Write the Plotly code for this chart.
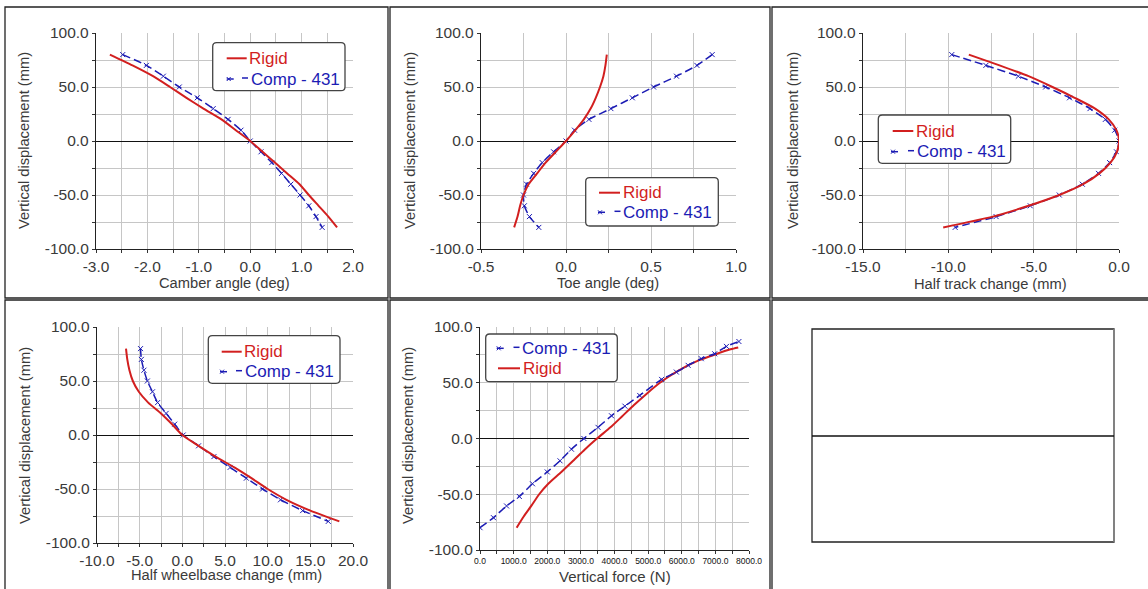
import plotly.graph_objects as go

W, H = 1148, 589

# ---------------- data ----------------
disp = [80, 70, 60, 50, 40, 30, 20, 10, 0, -10, -20, -30, -40, -50, -60, -70, -80]

camber_rigid = [-2.73, -2.29, -1.89, -1.56, -1.24, -0.91, -0.56, -0.28, 0.0, 0.24, 0.48, 0.72, 0.96, 1.14, 1.33, 1.52, 1.69]
camber_comp = [-2.48, -2.02, -1.69, -1.38, -1.03, -0.72, -0.43, -0.18, 0.0, 0.21, 0.42, 0.61, 0.79, 0.97, 1.14, 1.28, 1.40]

toe_rigid = [0.24, 0.232, 0.22, 0.20, 0.175, 0.145, 0.105, 0.055, 0.0, -0.06, -0.12, -0.17, -0.22, -0.25, -0.27, -0.285, -0.305]
toe_comp = [0.86, 0.77, 0.65, 0.515, 0.39, 0.264, 0.135, 0.05, 0.0, -0.073, -0.14, -0.19, -0.232, -0.25, -0.245, -0.215, -0.16]

track_rigid = [-8.8, -7.0, -5.3, -3.9, -2.6, -1.4, -0.6, -0.15, 0.0, -0.12, -0.5, -1.15, -2.1, -3.5, -5.3, -7.4, -10.3]
track_comp = [-9.8, -7.8, -5.9, -4.3, -2.9, -1.7, -0.8, -0.25, 0.0, -0.15, -0.55, -1.2, -2.15, -3.5, -5.2, -7.2, -9.6]

wb_rigid = [-6.6, -6.45, -6.2, -5.8, -5.1, -4.0, -2.5, -1.2, 0.0, 1.9, 3.9, 6.1, 8.1, 10.0, 12.2, 15.0, 18.4]
wb_comp = [-4.9, -4.8, -4.5, -4.1, -3.5, -2.9, -1.9, -0.9, 0.1, 1.9, 3.7, 5.6, 7.5, 9.4, 11.5, 14.1, 17.1]

force_comp = [0, 400, 790, 1170, 1560, 2000, 2380, 2720, 3090, 3510, 3910, 4310, 4750, 5400, 5840, 6190, 6580, 6980, 7330, 7700]
force_comp_disp = [-80, -71, -60.5, -52, -40.6, -30, -20, -9.6, 0, 10, 20.4, 29, 38.6, 53, 59.6, 65.6, 71.6, 76, 82.6, 87]

force_rigid = [1090, 1300, 1535, 1760, 2030, 2420, 2770, 3110, 3480, 3880, 4230, 4580, 4950, 5350, 5850, 6500, 7450, 7680]
force_rigid_disp = [-80, -70, -60, -50, -40.6, -30, -20, -10, 0, 10, 20, 30, 40, 50, 60, 70, 80, 81.7]

y_tickvals = [-100, -75, -50, -25, 0, 25, 50, 75, 100]
y_ticktext = ["-100.0", "", "-50.0", "", "0.0", "", "50.0", "", "100.0"]

x1_tickvals = [-3, -2.5, -2, -1.5, -1, -0.5, 0, 0.5, 1, 1.5, 2]
x1_ticktext = ["-3.0", "", "-2.0", "", "-1.0", "", "0.0", "", "1.0", "", "2.0"]
x2_tickvals = [-0.5, -0.25, 0, 0.25, 0.5, 0.75, 1.0]
x2_ticktext = ["-0.5", "", "0.0", "", "0.5", "", "1.0"]
x3_tickvals = [-15, -12.5, -10, -7.5, -5, -2.5, 0]
x3_ticktext = ["-15.0", "", "-10.0", "", "-5.0", "", "0.0"]
x4_tickvals = [-10, -7.5, -5, -2.5, 0, 2.5, 5, 7.5, 10, 12.5, 15, 17.5, 20]
x4_ticktext = ["-10.0", "", "-5.0", "", "0.0", "", "5.0", "", "10.0", "", "15.0", "", "20.0"]
x5_tickvals = [0, 500, 1000, 1500, 2000, 2500, 3000, 3500, 4000, 4500, 5000, 5500, 6000, 6500, 7000, 7500, 8000]
x5_ticktext = ["0.0", "", "1000.0", "", "2000.0", "", "3000.0", "", "4000.0", "", "5000.0", "", "6000.0", "", "7000.0", "", "8000.0"]

x_titles = ["Camber angle (deg)", "Toe angle (deg)", "Half track change (mm)", "Half wheelbase change (mm)", "Vertical force (N)"]
y_title = "Vertical displacement (mm)"
name_rigid = "Rigid"
name_comp = "Comp - 431"

# ---------------- style ----------------
RED = "#d21f1f"
BLUE = "#1c1cb4"
FONT = "Liberation Sans, Arial, sans-serif"
GRID = "#c6c6c6"
TXT = "#3a3a3a"


def fx(px):
    return px / W


def fy(py):
    return 1 - py / H


# plot area boxes in px: (x0, x1, ytop, ybottom)
boxes = [
    (96, 353, 33, 249),
    (481, 736, 33, 249),
    (863, 1119, 33, 249),
    (97, 353, 327, 543),
    (480, 749, 327, 550),
]
xranges = [[-3, 2], [-0.5, 1.0], [-15, 0], [-10, 20], [0, 8000]]
xticks = [(x1_tickvals, x1_ticktext), (x2_tickvals, x2_ticktext), (x3_tickvals, x3_ticktext),
          (x4_tickvals, x4_ticktext), (x5_tickvals, x5_ticktext)]

fig = go.Figure()

series = [
    (camber_rigid, disp, camber_comp, disp),
    (toe_rigid, disp, toe_comp, disp),
    (track_rigid, disp, track_comp, disp),
    (wb_rigid, disp, wb_comp, disp),
    (force_rigid, force_rigid_disp, force_comp, force_comp_disp),
]

layout = {}
for i, (box, xr, (tv, tt), s) in enumerate(zip(boxes, xranges, xticks, series)):
    n = "" if i == 0 else str(i + 1)
    xa, ya = "xaxis" + n, "yaxis" + n
    xref, yref = "x" + n, "y" + n
    x0, x1, yt, yb = box
    small = (i == 4)
    layout[xa] = dict(
        domain=[fx(x0), fx(x1)], range=xr, anchor=yref,
        tickmode="array", tickvals=tv, ticktext=tt,
        showgrid=True, gridcolor=GRID, gridwidth=1, zeroline=False,
        showline=True, linecolor="#222", linewidth=1.3,
        ticks="outside", ticklen=3, tickcolor="#333",
        tickfont=dict(family=FONT, size=8.5 if small else 15.5, color="#111" if small else TXT),
        fixedrange=True, automargin=False,
    )
    layout[ya] = dict(
        domain=[fy(yb), fy(yt)], range=[-100, 100], anchor=xref,
        tickmode="array", tickvals=y_tickvals, ticktext=y_ticktext,
        showgrid=True, gridcolor=GRID, gridwidth=1,
        zeroline=True, zerolinecolor="#111", zerolinewidth=1.3,
        showline=True, linecolor="#222", linewidth=1.3,
        ticks="outside", ticklen=3, tickcolor="#333",
        tickfont=dict(family=FONT, size=15.5, color=TXT),
        fixedrange=True, automargin=False,
    )
    xr_, yr_, xc_, yc_ = s
    comp = go.Scatter(x=xc_, y=yc_, xaxis=xref, yaxis=yref, mode="lines+markers",
                      line=dict(color=BLUE, width=1.5, dash="8px,4px", shape="spline", smoothing=0.6),
                      marker=dict(symbol="x-thin", size=5, color=BLUE, line=dict(color=BLUE, width=1)),
                      showlegend=False, name=name_comp)
    rigid = go.Scatter(x=xr_, y=yr_, xaxis=xref, yaxis=yref, mode="lines",
                       line=dict(color=RED, width=2, shape="spline", smoothing=0.6),
                       showlegend=False, name=name_rigid)
    if i == 4:
        fig.add_trace(rigid)
        fig.add_trace(comp)
    else:
        fig.add_trace(comp)
        fig.add_trace(rigid)

shapes = []
annotations = []

# cell borders (table-like frame)
cells = [(5, 388, 7, 298), (390, 770, 7, 298), (772, 1160, 7, 298),
         (5, 388, 300, 600), (390, 770, 300, 600), (772, 1160, 300, 600)]
for (a, b, c, d) in cells:
    shapes.append(dict(type="rect", xref="paper", yref="paper", x0=fx(a), x1=fx(b), y0=fy(d), y1=fy(c),
                       line=dict(color="#222", width=1.3), layer="below"))

# empty sixth panel
shapes.append(dict(type="rect", xref="paper", yref="paper", x0=fx(812), x1=fx(1114), y0=fy(542), y1=fy(329),
                   line=dict(color="#222", width=1.3)))
shapes.append(dict(type="line", xref="paper", yref="paper", x0=fx(1114), x1=fx(1114), y0=fy(542), y1=fy(329),
                   line=dict(color="#888", width=1.5)))
shapes.append(dict(type="line", xref="paper", yref="paper", x0=fx(812), x1=fx(1114), y0=fy(436), y1=fy(436),
                   line=dict(color="#111", width=1.3)))


def rounded_rect(x0, y0, x1, y1, r=4):
    p = (f"M {fx(x0 + r)},{fy(y0)} L {fx(x1 - r)},{fy(y0)} Q {fx(x1)},{fy(y0)} {fx(x1)},{fy(y0 + r)} "
         f"L {fx(x1)},{fy(y1 - r)} Q {fx(x1)},{fy(y1)} {fx(x1 - r)},{fy(y1)} "
         f"L {fx(x0 + r)},{fy(y1)} Q {fx(x0)},{fy(y1)} {fx(x0)},{fy(y1 - r)} "
         f"L {fx(x0)},{fy(y0 + r)} Q {fx(x0)},{fy(y0)} {fx(x0 + r)},{fy(y0)} Z")
    return dict(type="path", xref="paper", yref="paper", path=p,
                line=dict(color="#444", width=1.3), fillcolor="white")


def legend(box, entries):
    x0, y0, x1, y1 = box
    shapes.append(rounded_rect(x0, y0, x1, y1))
    for (name, ly, lx0, lx1) in entries:
        if name == name_rigid:
            shapes.append(dict(type="line", xref="paper", yref="paper", x0=fx(lx0), x1=fx(lx1),
                               y0=fy(ly), y1=fy(ly), line=dict(color=RED, width=2)))
            col = RED
        else:
            shapes.append(dict(type="line", xref="paper", yref="paper", x0=fx(lx0), x1=fx(lx0 + 7),
                               y0=fy(ly), y1=fy(ly), line=dict(color=BLUE, width=1.5)))
            shapes.append(dict(type="line", xref="paper", yref="paper", x0=fx(lx1 - 6), x1=fx(lx1),
                               y0=fy(ly - 1), y1=fy(ly - 1), line=dict(color=BLUE, width=1.5)))
            for dxy in [(-2, -2, 2, 2), (-2, 2, 2, -2)]:
                shapes.append(dict(type="line", xref="paper", yref="paper",
                                   x0=fx(lx0 + 2 + dxy[0]), x1=fx(lx0 + 2 + dxy[2]),
                                   y0=fy(ly + dxy[1]), y1=fy(ly + dxy[3]),
                                   line=dict(color=BLUE, width=1)))
            col = BLUE
        annotations.append(dict(xref="paper", yref="paper", x=fx(lx1 + 0.5), y=fy(ly), text=name,
                                showarrow=False, xanchor="left", yanchor="middle",
                                font=dict(family=FONT, size=17, color=col)))


legend((212.7, 42.7, 345, 90.7), [(name_rigid, 58.3, 226.7, 246.7), (name_comp, 79, 226.7, 248)])
legend((585.7, 177.7, 718.3, 226), [(name_rigid, 192.7, 599, 620), (name_comp, 212.3, 598, 620.5)])
legend((878.3, 115, 1010.7, 163.3), [(name_rigid, 131, 892.7, 913.3), (name_comp, 151.7, 891, 914)])
legend((208.3, 335.7, 340, 383.3), [(name_rigid, 351.7, 221.7, 241.7), (name_comp, 371.7, 220, 242)])
legend((485.7, 334, 617.3, 381.7), [(name_comp, 348.3, 496.7, 519.5), (name_rigid, 368.3, 498, 520)])

# axis titles
xt_pos = [(224, 283), (608, 283), (990, 284), (226, 575), (615, 576)]
for t, (xp, yp) in zip(x_titles, xt_pos):
    annotations.append(dict(xref="paper", yref="paper", x=fx(xp), y=fy(yp), text=t, showarrow=False,
                            xanchor="center", yanchor="middle",
                            font=dict(family=FONT, size=15 if t == x_titles[4] else 14.7, color=TXT)))
yt_pos = [(24, 141), (410, 141), (793, 141), (25, 436), (408, 436)]
for (xp, yp) in yt_pos:
    annotations.append(dict(xref="paper", yref="paper", x=fx(xp), y=fy(yp), text=y_title, showarrow=False,
                            textangle=-90, xanchor="center", yanchor="middle",
                            font=dict(family=FONT, size=14.7, color=TXT)))

fig.update_layout(
    width=W, height=H, margin=dict(l=0, r=0, t=0, b=0, pad=0, autoexpand=False),
    paper_bgcolor="white", plot_bgcolor="white",
    showlegend=False, shapes=shapes, annotations=annotations,
    **layout,
)

fig.write_html("out.html", config={"displayModeBar": False},
               post_script="document.body.style.margin='0';document.body.style.padding='0';"
                           "document.body.style.overflow='hidden';")
